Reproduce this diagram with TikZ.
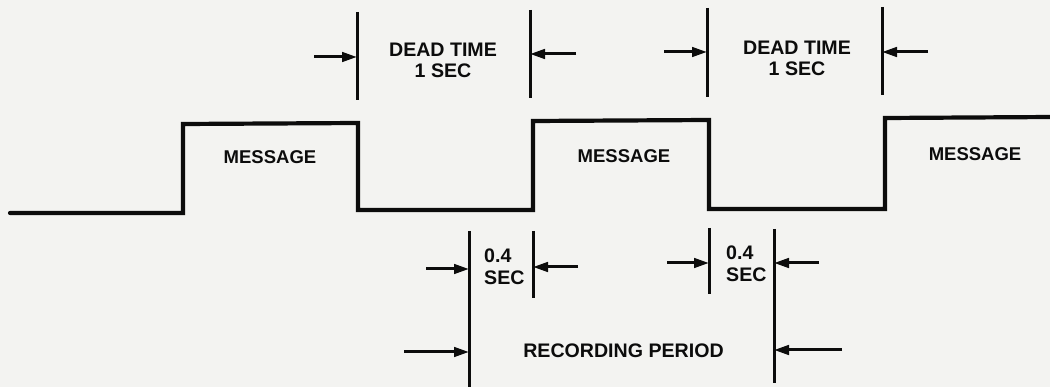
\documentclass[tikz,border=0pt]{standalone}
\usepackage{fontspec}
\setmainfont{Liberation Sans}
\usetikzlibrary{arrows.meta}
\definecolor{paper}{RGB}{243,243,241}
\definecolor{ink}{RGB}{12,12,12}
\begin{document}
\begin{tikzpicture}[x=1pt,y=-1pt,
  wave/.style={ink,line width=4.2pt,line join=miter,line cap=round},
  tickline/.style={ink,line width=3pt},
  dimarrow/.style={ink,line width=3pt,-{Triangle[length=15pt,width=9.5pt]}},
  lbl/.style={ink,font=\fontsize{19.6}{21}\selectfont\bfseries,inner sep=0pt,align=center},
  lblleft/.style={lbl,align=left,anchor=west,font=\fontsize{19.6}{22}\selectfont\bfseries}]
\fill[paper] (0,0) rectangle (1050,387);
\useasboundingbox (0,0) rectangle (1050,387);

% waveform
\coordinate (w0) at (10,213);
\coordinate (w1) at (183,213);
\coordinate (w2) at (183,124);
\coordinate (w3) at (358,123);
\coordinate (w4) at (358,210);
\coordinate (w5) at (533,210);
\coordinate (w6) at (533,121);
\coordinate (w7) at (709,120);
\coordinate (w8) at (709,209);
\coordinate (w9) at (885,209);
\coordinate (w10) at (885,118);
\coordinate (w11) at (1053,117);
\draw[wave] (w0) -- (w1) -- (w2) -- (w3) -- (w4) -- (w5) -- (w6) -- (w7) -- (w8) -- (w9) -- (w10) -- (w11);

\node[lbl,font=\fontsize{18.5}{21}\selectfont\bfseries] (m1) at (270,157) {MESSAGE};
\node[lbl,font=\fontsize{18.5}{21}\selectfont\bfseries] (m2) at (624,156) {MESSAGE};
\node[lbl,font=\fontsize{18.5}{21}\selectfont\bfseries] (m3) at (975,154) {MESSAGE};

% dead time 1
\coordinate (d1a) at (357,12);
\coordinate (d1b) at (357,100);
\coordinate (d1c) at (530,10);
\coordinate (d1d) at (530,98);
\draw[tickline] (d1a) -- (d1b);
\draw[tickline] (d1c) -- (d1d);
\coordinate (d1l) at (314,57);
\coordinate (d1lt) at (357,57);
\coordinate (d1r) at (576,54);
\coordinate (d1rt) at (530,54);
\draw[dimarrow] (d1l) -- (d1lt);
\draw[dimarrow] (d1r) -- (d1rt);
\node[lbl] (dt1) at (443,60.5) {DEAD TIME\\1 SEC};

% dead time 2
\coordinate (d2a) at (707,8);
\coordinate (d2b) at (707,97);
\coordinate (d2c) at (882,7);
\coordinate (d2d) at (882,95);
\draw[tickline] (d2a) -- (d2b);
\draw[tickline] (d2c) -- (d2d);
\coordinate (d2l) at (664,52);
\coordinate (d2lt) at (707,52);
\coordinate (d2r) at (928,52);
\coordinate (d2rt) at (882,52);
\draw[dimarrow] (d2l) -- (d2lt);
\draw[dimarrow] (d2r) -- (d2rt);
\node[lbl] (dt2) at (797,58.5) {DEAD TIME\\1 SEC};

% recording period 1
\coordinate (r1a) at (469,231);
\coordinate (r1b) at (469,390);
\coordinate (r1c) at (533,231);
\coordinate (r1d) at (533,298);
\draw[tickline] (r1a) -- (r1b);
\draw[tickline] (r1c) -- (r1d);
\coordinate (r1l) at (426,269);
\coordinate (r1lt) at (469,269);
\coordinate (r1r) at (578,267);
\coordinate (r1rt) at (533,267);
\draw[dimarrow] (r1l) -- (r1lt);
\draw[dimarrow] (r1r) -- (r1rt);
\node[lblleft] (s1) at (484,267) {0.4\\SEC};

% recording period 2
\coordinate (r2a) at (709,228);
\coordinate (r2b) at (709,294);
\coordinate (r2c) at (774,229);
\coordinate (r2d) at (774,383);
\draw[tickline] (r2a) -- (r2b);
\draw[tickline] (r2c) -- (r2d);
\coordinate (r2l) at (667,263);
\coordinate (r2lt) at (709,263);
\coordinate (r2r) at (819,263);
\coordinate (r2rt) at (774,263);
\draw[dimarrow] (r2l) -- (r2lt);
\draw[dimarrow] (r2r) -- (r2rt);
\node[lblleft] (s2) at (726,264) {0.4\\SEC};

% recording period span
\coordinate (pl) at (404,352);
\coordinate (plt) at (469,352);
\coordinate (pr) at (842,350);
\coordinate (prt) at (774,350);
\draw[dimarrow] (pl) -- (plt);
\draw[dimarrow] (pr) -- (prt);
\node[lbl] (rp) at (623.5,351) {RECORDING PERIOD};
\end{tikzpicture}
\end{document}
